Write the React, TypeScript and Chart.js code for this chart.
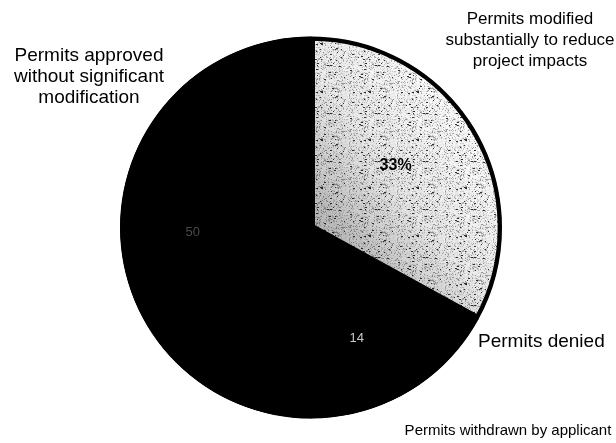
import React, { useEffect, useRef } from "react";
import { Chart, registerables } from "chart.js";

Chart.register(...registerables);

// ---- data ----
const categories = [
  "Permits modified substantially to reduce project impacts",
  "Permits denied",
  "Permits withdrawn by applicant",
  "Permits approved without significant modification",
];
const values = [33, 3, 14, 50];
const sliceLabels = ["33%", "", "14", "50"];
const outerLabelLines = [
  ["Permits modified", "substantially to reduce", "project impacts"],
  ["Permits denied"],
  ["Permits withdrawn by applicant"],
  ["Permits approved", "without significant", "modification"],
];

// ---- styles ----
const FONT = '"Liberation Sans", Arial, Helvetica, sans-serif';
const sliceLabelRadius = [0.55, 0, 0.63, 0.62];
const sliceLabelAngleShift = [-0.1, 0, 0.05, -0.04];
const sliceLabelFont = [`bold 16px ${FONT}`, "", `13px ${FONT}`, `13px ${FONT}`];
const sliceLabelColor = ["#000000", "#000000", "#c8c8c8", "#4a4a4a"];
const outerLabelStyle = [
  { x: 530, y: 19, lh: 21, align: "center", size: 17 },
  { x: 478, y: 342, lh: 20, align: "left", size: 19 },
  { x: 508, y: 431, lh: 20, align: "center", size: 15 },
  { x: 89, y: 56, lh: 21, align: "center", size: 19 },
];

function hash(x: number, y: number) {
  let h = (x * 374761393 + y * 668265263) | 0;
  h = Math.imul(h ^ (h >>> 13), 1274126177);
  h = h ^ (h >>> 16);
  return (h >>> 0) % 1000;
}

function makePattern(ctx: CanvasRenderingContext2D) {
  const size = 48;
  const c = document.createElement("canvas");
  c.width = size;
  c.height = size;
  const g = c.getContext("2d")!;
  g.fillStyle = "#f2f2f2";
  g.fillRect(0, 0, size, size);
  for (let y = 0; y < size; y++) {
    for (let x = 0; x < size; x++) {
      const v = hash(x, y);
      if (v < 25) {
        g.fillStyle = "#333333";
        g.fillRect(x, y, 2, 1);
      } else if (v < 120) {
        g.fillStyle = "#a0a0a0";
        g.fillRect(x, y, 1, 1);
      } else if (v < 230) {
        g.fillStyle = "#cacaca";
        g.fillRect(x, y, 1, 1);
      } else if (v < 560) {
        g.fillStyle = "#ffffff";
        g.fillRect(x, y, 1, 1);
      }
    }
  }
  return ctx.createPattern(c, "repeat")!;
}

const labelPlugin = {
  id: "pieLabels",
  beforeDatasetsDraw(chart: any) {
    const ctx: CanvasRenderingContext2D = chart.ctx;
    const arc = chart.getDatasetMeta(0).data[0];
    if (!arc) return;
    const p = arc.getProps(["x", "y", "outerRadius"], true);
    ctx.save();
    ctx.fillStyle = "#000000";
    ctx.beginPath();
    ctx.arc(p.x, p.y, p.outerRadius - 0.5, 0, Math.PI * 2);
    ctx.fill();
    ctx.restore();
  },
  afterDatasetsDraw(chart: any) {
    const ctx: CanvasRenderingContext2D = chart.ctx;
    const meta = chart.getDatasetMeta(0);
    ctx.save();
    // shading of the stippled slice: darker toward the centre edges
    const a0 = meta.data[0].getProps(["x", "y", "startAngle", "endAngle", "outerRadius"], true);
    ctx.save();
    ctx.beginPath();
    ctx.moveTo(a0.x, a0.y);
    ctx.arc(a0.x, a0.y, a0.outerRadius - 4, a0.startAngle, a0.endAngle);
    ctx.closePath();
    ctx.clip();
    const grad = ctx.createLinearGradient(a0.x, a0.y, a0.x + a0.outerRadius * 0.8, a0.y - a0.outerRadius * 0.6);
    grad.addColorStop(0, "rgba(0,0,0,0.3)");
    grad.addColorStop(0.5, "rgba(0,0,0,0.08)");
    grad.addColorStop(1, "rgba(0,0,0,0)");
    ctx.fillStyle = grad;
    ctx.fillRect(a0.x - 5, a0.y - a0.outerRadius, a0.outerRadius + 5, a0.outerRadius * 2);
    ctx.restore();

    meta.data.forEach((arc: any, i: number) => {
      if (!sliceLabels[i]) return;
      const p = arc.getProps(["x", "y", "startAngle", "endAngle", "outerRadius"], true);
      const mid = (p.startAngle + p.endAngle) / 2 + sliceLabelAngleShift[i];
      const r = p.outerRadius * sliceLabelRadius[i];
      ctx.font = sliceLabelFont[i];
      ctx.fillStyle = sliceLabelColor[i];
      ctx.textAlign = "center";
      ctx.textBaseline = "middle";
      ctx.fillText(sliceLabels[i], p.x + Math.cos(mid) * r, p.y + Math.sin(mid) * r);
    });
    outerLabelLines.forEach((lines, i) => {
      const s = outerLabelStyle[i];
      ctx.font = `${s.size}px ${FONT}`;
      ctx.fillStyle = "#000000";
      ctx.textAlign = s.align as CanvasTextAlign;
      ctx.textBaseline = "middle";
      lines.forEach((line, j) => ctx.fillText(line, s.x, s.y + j * s.lh));
    });
    ctx.restore();
  },
};

export default function App() {
  const ref = useRef<HTMLCanvasElement>(null);
  useEffect(() => {
    document.body.style.margin = "0";
    const canvas = ref.current!;
    const ctx = canvas.getContext("2d")!;
    const pattern = makePattern(ctx);
    const chart = new Chart(ctx, {
      type: "pie",
      data: {
        labels: categories,
        datasets: [
          {
            data: values,
            backgroundColor: [pattern, "#000000", "#000000", "#000000"],
            borderColor: "#000000",
            borderWidth: [4, 2, 2, 2],
            borderAlign: "inner",
          } as any,
        ],
      },
      options: {
        responsive: false,
        animation: false,
        radius: 191,
        layout: { padding: { left: 6, top: 12, right: 0, bottom: 0 } },
        plugins: {
          legend: { display: false },
          tooltip: { enabled: false },
        },
        events: [],
      } as any,
      plugins: [labelPlugin],
    });
    return () => chart.destroy();
  }, []);
  return (
    <div style={{ width: 616, height: 443, background: "#ffffff" }}>
      <canvas ref={ref} width={616} height={443} style={{ display: "block" }} />
    </div>
  );
}
